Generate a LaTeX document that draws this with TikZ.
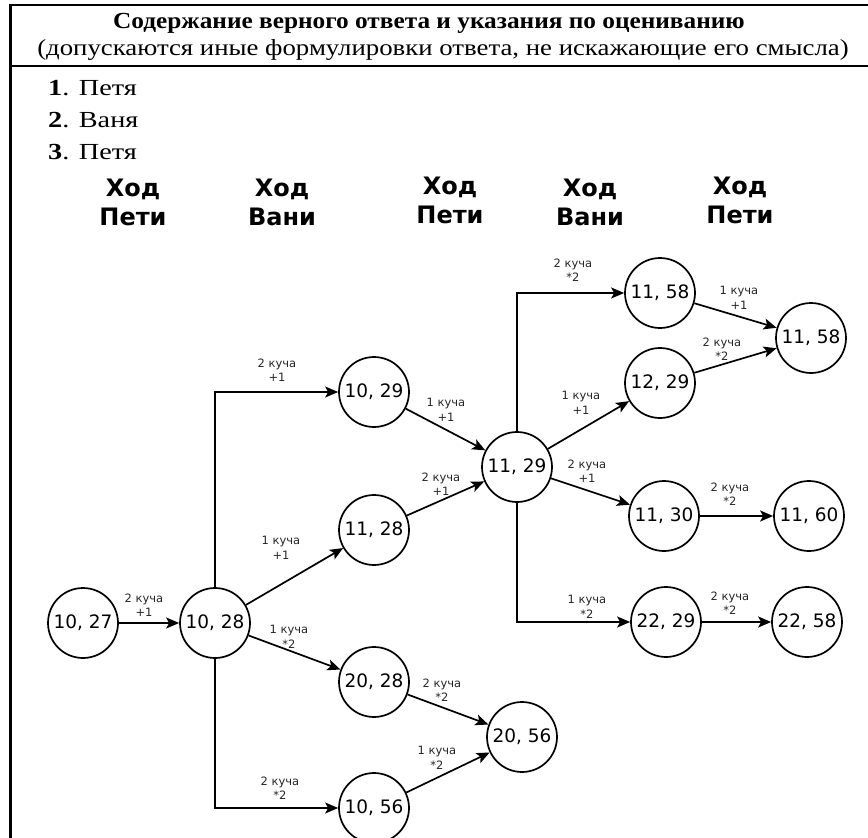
\documentclass[tikz,border=0pt]{standalone}
\usepackage{fontspec}
\setmainfont{Liberation Serif}
\newfontfamily\dejavu{DejaVu Sans}
\usetikzlibrary{arrows.meta}
\begin{document}
\begin{tikzpicture}[x=1pt,y=-1pt,
  st/.style={circle, draw, line width=1.7pt, minimum size=70pt, inner sep=0pt,
             font=\dejavu\fontsize{18.5}{18.5}\selectfont},
  lbl/.style={font=\dejavu\fontsize{11.5}{14.5}\selectfont, align=center, text=black!85, inner sep=0pt},
  hdr/.style={font=\dejavu\bfseries\fontsize{24}{29}\selectfont, align=center, inner sep=0pt},
  arr/.style={line width=1.7pt, -{Stealth[length=13pt,width=11pt,inset=3pt]}},
  tline/.style={line width=2.6pt},
  ttext/.style={inner sep=0pt, font=\fontsize{23}{27}\selectfont}]
\useasboundingbox (0,0) rectangle (868,838);
% table
\coordinate (tl) at (10.5,5);
\coordinate (tr) at (868,5);
\coordinate (sl) at (10.5,66);
\coordinate (sr) at (868,66);
\coordinate (bl) at (10.5,838);
\draw[tline] (tl) -- (tr);
\draw[tline] (sl) -- (sr);
\draw[line width=3pt] (10.5,3.7) -- (bl);
\node[ttext, font=\bfseries\fontsize{23}{27}\selectfont] (h1) at (429,23) {\scalebox{1.10}[1]{Содержание верного ответа и указания по оцениванию}};
\node[ttext] (h2) at (443,50) {\scalebox{1.165}[1]{(допускаются иные формулировки ответа, не искажающие его смысла)}};
\node[ttext, anchor=west] (a1) at (48,88) {\scalebox{1.23}[1]{\textbf{1}. Петя}};
\node[ttext, anchor=west] (a2) at (48,120) {\scalebox{1.23}[1]{\textbf{2}. Ваня}};
\node[ttext, anchor=west] (a3) at (48,152) {\scalebox{1.23}[1]{\textbf{3}. Петя}};
% column headers
\node[hdr] (c1) at (133,202) {Ход\\Пети};
\node[hdr] (c2) at (282,202) {Ход\\Вани};
\node[hdr] (c3) at (450,200) {Ход\\Пети};
\node[hdr] (c4) at (590,202) {Ход\\Вани};
\node[hdr] (c5) at (740,200) {Ход\\Пети};
% states
\node[st] (n1027) at (83,623) {10, 27};
\node[st] (n1028) at (215,623) {10, 28};
\node[st] (n1029) at (374,392) {10, 29};
\node[st] (n1128) at (374,530) {11, 28};
\node[st] (n2028) at (374,682) {20, 28};
\node[st] (n1056) at (374,808) {10, 56};
\node[st] (n1129) at (517,467) {11, 29};
\node[st] (n2056) at (522,737) {20, 56};
\node[st] (n1158a) at (660,293) {11, 58};
\node[st] (n1229) at (660,383) {12, 29};
\node[st] (n1130) at (664,516) {11, 30};
\node[st] (n2229) at (666,622) {22, 29};
\node[st] (n1158b) at (811,338) {11, 58};
\node[st] (n1160) at (809,516) {11, 60};
\node[st] (n2258) at (807,622) {22, 58};
% connectors
\draw[arr] (n1027) -- (n1028);
\draw[arr] (n1028.north) |- (n1029);
\draw[arr] (n1028) -- (n1128);
\draw[arr] (n1028) -- (n2028);
\draw[arr] (n1028.south) |- (n1056);
\draw[arr] (n1029) -- (n1129);
\draw[arr] (n1128) -- (n1129);
\draw[arr] (n2028) -- (n2056);
\draw[arr] (n1056) -- (n2056);
\draw[arr] (n1129.north) |- (n1158a);
\draw[arr] (n1129) -- (n1229);
\draw[arr] (n1129) -- (n1130);
\draw[arr] (n1129.south) |- (n2229);
\draw[arr] (n1158a) -- (n1158b);
\draw[arr] (n1229) -- (n1158b);
\draw[arr] (n1130) -- (n1160);
\draw[arr] (n2229) -- (n2258);
% labels
\node[lbl] (l1) at (144,605) {2 куча\\+1};
\node[lbl] (l2) at (277,370) {2 куча\\+1};
\node[lbl] (l3) at (281,548) {1 куча\\+1};
\node[lbl] (l4) at (289,637) {1 куча\\*2};
\node[lbl] (l5) at (280,788) {2 куча\\*2};
\node[lbl] (l6) at (446,410) {1 куча\\+1};
\node[lbl] (l7) at (441,484) {2 куча\\+1};
\node[lbl] (l8) at (442,690) {2 куча\\*2};
\node[lbl] (l9) at (437,758) {1 куча\\*2};
\node[lbl] (l10) at (573,270) {2 куча\\*2};
\node[lbl] (l11) at (581,403) {1 куча\\+1};
\node[lbl] (l12) at (587,471) {2 куча\\+1};
\node[lbl] (l13) at (587,607) {1 куча\\*2};
\node[lbl] (l14) at (739,298) {1 куча\\+1};
\node[lbl] (l15) at (722,349) {2 куча\\*2};
\node[lbl] (l16) at (730,494) {2 куча\\*2};
\node[lbl] (l17) at (730,603) {2 куча\\*2};
\end{tikzpicture}
\end{document}
